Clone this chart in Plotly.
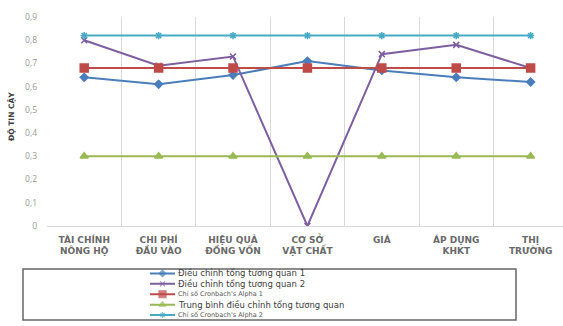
import plotly.graph_objects as go

# Categories (two-line axis labels)
categories = [
    "TÀI CHÍNH<br>NÔNG HỘ",
    "CHI PHÍ<br>ĐẦU VÀO",
    "HIỆU QUẢ<br>ĐỒNG VỐN",
    "CƠ SỞ<br>VẬT CHẤT",
    "GIÁ",
    "ÁP DỤNG<br>KHKT",
    "THỊ<br>TRƯỜNG",
]

series_names = [
    "Điều chỉnh tổng tương quan 1",
    "Điều chỉnh tổng tương quan 2",
    "Chỉ số Cronbach's Alpha 1",
    "Trung bình điều chỉnh tổng tương quan",
    "Chỉ số Cronbach's Alpha 2",
]

dieu_chinh_1 = [0.64, 0.61, 0.65, 0.71, 0.67, 0.64, 0.62]
dieu_chinh_2 = [0.80, 0.69, 0.73, 0.00, 0.74, 0.78, 0.68]
cronbach_1 = [0.68, 0.68, 0.68, 0.68, 0.68, 0.68, 0.68]
trung_binh = [0.30, 0.30, 0.30, 0.30, 0.30, 0.30, 0.30]
cronbach_2 = [0.82, 0.82, 0.82, 0.82, 0.82, 0.82, 0.82]

y_tick_vals = [0, 0.1, 0.2, 0.3, 0.4, 0.5, 0.6, 0.7, 0.8, 0.9]
y_tick_text = ["0", "0,1", "0,2", "0,3", "0,4", "0,5", "0,6", "0,7", "0,8", "0,9"]

series_values = [dieu_chinh_1, dieu_chinh_2, cronbach_1, trung_binh, cronbach_2]

# Styles per series
colors = ["#4A7EBB", "#7D5FA0", "#BE4B48", "#98B954", "#46AAC5"]
symbols = ["diamond", "x-thin-open", "square", "triangle-up", "asterisk-open"]
msizes = [6, 6, 8, 7, 6]
legend_font = [
    dict(size=8.5, color="#404040"),
    dict(size=8.5, color="#404040"),
    dict(size=6.5, color="#595959"),
    dict(size=8.5, color="#404040"),
    dict(size=6.5, color="#595959"),
]

W, H = 563, 326
ML, MR, MT, MB = 47, 0, 17, 2
PW, PH = W - ML - MR, H - MT - MB


def py(pix):
    """Convert a pixel row to paper y."""
    return (H - MB - pix) / PH


def px(pix):
    """Convert a pixel column to paper x."""
    return (pix - ML) / PW


fig = go.Figure()

for name, vals, col, sym, ms in zip(series_names, series_values, colors, symbols, msizes):
    fig.add_trace(go.Scatter(
        x=categories, y=vals, name=name, mode="lines+markers",
        line=dict(color=col, width=2),
        marker=dict(symbol=sym, size=ms, color=col,
                    line=dict(color=col, width=1.5)),
        showlegend=False, xaxis="x", yaxis="y",
    ))

# Legend keys drawn on a small auxiliary axis pair
for i, (name, col, sym, ms) in enumerate(zip(series_names, colors, symbols, msizes)):
    fig.add_trace(go.Scatter(
        x=[0, 0.5, 1], y=[i, i, i], mode="lines+markers",
        line=dict(color=col, width=2),
        marker=dict(symbol=sym, size=[0, ms - 1, 0], color=col,
                    line=dict(color=col, width=1.2)),
        showlegend=False, hoverinfo="skip", xaxis="x2", yaxis="y2",
    ))
    fig.add_annotation(
        x=1, y=i, xref="x2", yref="y2", text=name, showarrow=False,
        xanchor="left", yanchor="middle", xshift=1,
        font=dict(family="DejaVu Sans", **legend_font[i]),
    )

plot_bottom = 228
fig.update_layout(
    width=W, height=H,
    margin=dict(l=ML, r=MR, t=MT, b=MB, pad=0),
    paper_bgcolor="white", plot_bgcolor="white",
    showlegend=False,
    xaxis=dict(
        type="category", domain=[0, 1], range=[-0.5, 6.435],
        tickson="boundaries", showgrid=True, gridcolor="#D9D9D9", gridwidth=1,
        showline=True, linecolor="#D9D9D9", linewidth=1,
        ticks="", zeroline=False, ticklabelstandoff=5,
        tickfont=dict(family="DejaVu Sans", size=9, color="#6A6A6A", weight="bold"),
        anchor="y",
    ),
    yaxis=dict(
        domain=[py(plot_bottom), 1], range=[0, 0.9],
        tickvals=y_tick_vals, ticktext=y_tick_text,
        showgrid=False, zeroline=False, showline=False, ticks="",
        ticklabelstandoff=9,
        tickfont=dict(family="Open Sans", size=8.5, color="#999999"),
        anchor="x",
    ),
    xaxis2=dict(domain=[px(150), px(175)], range=[0, 1], visible=False,
                anchor="y2", fixedrange=True),
    yaxis2=dict(domain=[py(323), py(271)], range=[4.476, -0.476],
                visible=False, anchor="x2", fixedrange=True),
)

# Y axis title
fig.add_annotation(
    x=px(11), y=py(118), xref="paper", yref="paper", text="<b>ĐỘ TIN CẬY</b>",
    textangle=-90, showarrow=False, xanchor="center", yanchor="middle",
    font=dict(family="DejaVu Sans", size=7.5, color="#404040"),
)

# Legend frame
fig.add_shape(
    type="rect", xref="paper", yref="paper",
    x0=px(23), x1=px(516), y0=py(323), y1=py(271.5),
    line=dict(color="#666666", width=1.5), fillcolor="rgba(0,0,0,0)",
)

fig.write_html("out.html")
